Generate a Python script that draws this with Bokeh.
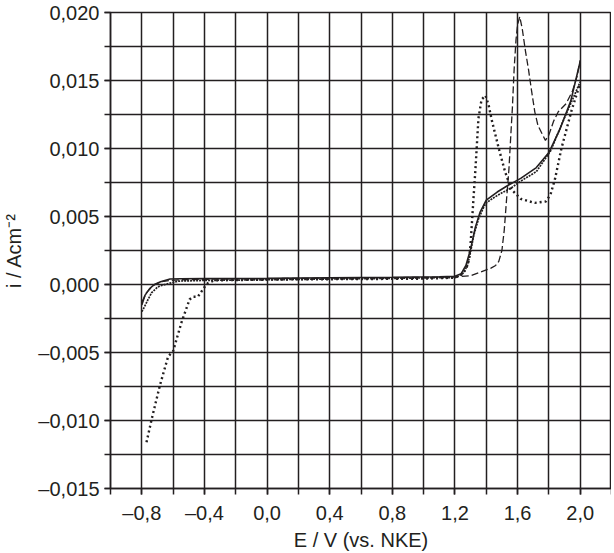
from bokeh.plotting import figure
from bokeh.models import FixedTicker, CustomJSTickFormatter, Range1d
from bokeh.embed import file_html
from bokeh.resources import INLINE

# ---- data ----
solid_E = [-0.80, -0.78, -0.75, -0.72, -0.68, -0.62, -0.55, -0.40, 0.00, 0.40, 0.80, 1.10,
           1.20, 1.24, 1.27, 1.30, 1.33, 1.36, 1.40, 1.47, 1.54, 1.62, 1.72, 1.80, 1.87, 1.94, 2.00]
solid_i = [-0.0015, -0.0008, -0.0003, 0.0000, 0.0002, 0.0004, 0.00042, 0.00043, 0.00045, 0.0005, 0.00053, 0.00057,
           0.0006, 0.0008, 0.0014, 0.0026, 0.0042, 0.0053, 0.0062, 0.0068, 0.0073, 0.0078, 0.0086, 0.0097, 0.0114, 0.0135, 0.0164]

dashed_E = [-0.80, -0.77, -0.73, -0.68, -0.62, -0.55, -0.30, 0.20, 0.80, 1.20, 1.30, 1.36, 1.43, 1.46,
            1.48, 1.50, 1.515, 1.53, 1.545, 1.556, 1.567, 1.578, 1.59, 1.60, 1.614,
            1.63, 1.65, 1.67, 1.69, 1.71, 1.73, 1.76, 1.778, 1.80, 1.83, 1.86, 1.91, 1.95, 1.98, 2.00]
dashed_i = [-0.0013, -0.0006, -0.0001, 0.0002, 0.0003, 0.00035, 0.0004, 0.00045, 0.0005, 0.00055, 0.00065, 0.0009, 0.0012, 0.0014,
            0.0017, 0.0025, 0.0040, 0.0063, 0.0085, 0.0108, 0.0130, 0.0158, 0.0180, 0.0191, 0.0197,
            0.0188, 0.0172, 0.0158, 0.0142, 0.0127, 0.0117, 0.0110, 0.0106, 0.0110, 0.0120, 0.0127, 0.0133, 0.0142, 0.0153, 0.0165]

coarse_E = [-0.77, -0.737, -0.684, -0.632, -0.60, -0.547, -0.495, -0.474, -0.442, -0.40, -0.379, -0.337, -0.20,
            0.20, 0.60, 1.00, 1.20, 1.24, 1.27, 1.29, 1.30, 1.31, 1.32, 1.33, 1.35, 1.37, 1.395, 1.415, 1.435,
            1.48, 1.52, 1.56, 1.62, 1.71, 1.78, 1.81, 1.84, 1.88, 1.945, 2.00]
coarse_i = [-0.0116, -0.0099, -0.0074, -0.0053, -0.0049, -0.0028, -0.0011, -0.0009, -0.0009, -0.0002, 0.0001, 0.0003, 0.00033,
            0.00038, 0.0004, 0.00043, 0.0005, 0.0007, 0.0011, 0.0018, 0.0030, 0.0048, 0.0066, 0.0083, 0.0122, 0.0136, 0.0139, 0.0132, 0.0121,
            0.0100, 0.0083, 0.0070, 0.0063, 0.0060, 0.0061, 0.0066, 0.0078, 0.0100, 0.0128, 0.0148]

fine_E = [-0.80, -0.79, -0.76, -0.737, -0.70, -0.684, -0.62, -0.568, -0.40, 0.00, 0.40, 0.80, 1.10,
          1.20, 1.25, 1.28, 1.30, 1.32, 1.35, 1.38, 1.40, 1.45, 1.51, 1.56, 1.62, 1.72, 1.81, 1.89, 1.955, 2.00]
fine_i = [-0.0020, -0.0018, -0.0011, -0.0006, -0.0002, -0.0001, 0.0001, 0.00025, 0.0003, 0.00035, 0.0004, 0.00045, 0.0005,
          0.0005, 0.0008, 0.0014, 0.0024, 0.0036, 0.0048, 0.0056, 0.0060, 0.0064, 0.0068, 0.0071, 0.0076, 0.0083, 0.0098, 0.0120, 0.0137, 0.0149]

X_TICKS = [-0.8, -0.4, 0.0, 0.4, 0.8, 1.2, 1.6, 2.0]
X_TICK_LABELS = ["\u20130,8", "\u20130,4", "0,0", "0,4", "0,8", "1,2", "1,6", "2,0"]
X_MINOR = [-1.0, -0.8, -0.6, -0.4, -0.2, 0.0, 0.2, 0.4, 0.6, 0.8, 1.0, 1.2, 1.4, 1.6, 1.8, 2.0, 2.2]
Y_TICKS = [-0.015, -0.010, -0.005, 0.000, 0.005, 0.010, 0.015, 0.020]
Y_TICK_LABELS = ["\u20130,015", "\u20130,010", "\u20130,005", "0,000", "0,005", "0,010", "0,015", "0,020"]
Y_MINOR = [-0.015, -0.0125, -0.010, -0.0075, -0.005, -0.0025, 0.0, 0.0025, 0.005, 0.0075, 0.010,
           0.0125, 0.015, 0.0175, 0.020]
X_LABEL = "E / V (vs. NKE)"
Y_LABEL = "i / Acm\u207b\u00b2"

INK = "#231f20"
FONT = "Liberation Sans"

p = figure(output_backend="svg", toolbar_location=None,
           frame_width=501, frame_height=476,
           min_border_left=108, min_border_right=0, min_border_top=12, min_border_bottom=58,
           x_range=Range1d(-1.0, 2.2), y_range=Range1d(-0.015, 0.020),
           background_fill_color="white", border_fill_color="white")

p.outline_line_color = INK
p.outline_line_width = 1.5

# grids
p.xgrid.ticker = FixedTicker(ticks=X_MINOR)
p.ygrid.ticker = FixedTicker(ticks=Y_MINOR)
for g in (p.xgrid, p.ygrid):
    g.grid_line_color = INK
    g.grid_line_width = 1.5
    g.grid_line_alpha = 1.0

def fmt(tv, tl):
    return CustomJSTickFormatter(args=dict(tv=tv, tl=tl), code="""
        for (let k = 0; k < tv.length; k++) {
            if (Math.abs(tv[k] - tick) < 1e-9) return tl[k];
        }
        return '';
    """)

xa = p.xaxis[0]
xa.ticker = FixedTicker(ticks=X_TICKS, minor_ticks=X_MINOR)
xa.formatter = fmt(X_TICKS, X_TICK_LABELS)
ya = p.yaxis[0]
ya.ticker = FixedTicker(ticks=Y_TICKS, minor_ticks=Y_MINOR)
ya.formatter = fmt(Y_TICKS, Y_TICK_LABELS)

for ax in (xa, ya):
    ax.axis_line_color = INK
    ax.axis_line_width = 1.5
    ax.major_tick_line_color = INK
    ax.major_tick_line_width = 1.5
    ax.minor_tick_line_color = INK
    ax.minor_tick_line_width = 1.5
    ax.major_tick_in = 0
    ax.major_tick_out = 6
    ax.minor_tick_in = 0
    ax.minor_tick_out = 6
    ax.major_label_text_font = FONT
    ax.major_label_text_font_size = "20px"
    ax.major_label_text_color = INK
    ax.axis_label_text_font = FONT
    ax.axis_label_text_font_size = "20px"
    ax.axis_label_text_font_style = "normal"
    ax.axis_label_text_color = INK

xa.axis_label = X_LABEL
ya.axis_label = Y_LABEL
xa.major_label_standoff = 7
xa.axis_label_standoff = 2
ya.major_label_standoff = 5
ya.axis_label_standoff = 10

# curves
p.line(solid_E, solid_i, line_color=INK, line_width=1.6)
p.line(dashed_E, dashed_i, line_color=INK, line_width=1.3, line_dash="7 3")
p.line(fine_E, fine_i, line_color=INK, line_width=1.7, line_dash="2 1")
p.line(coarse_E, coarse_i, line_color=INK, line_width=2.4, line_dash="2 3")

open("out.html", "w").write(file_html(p, INLINE))
